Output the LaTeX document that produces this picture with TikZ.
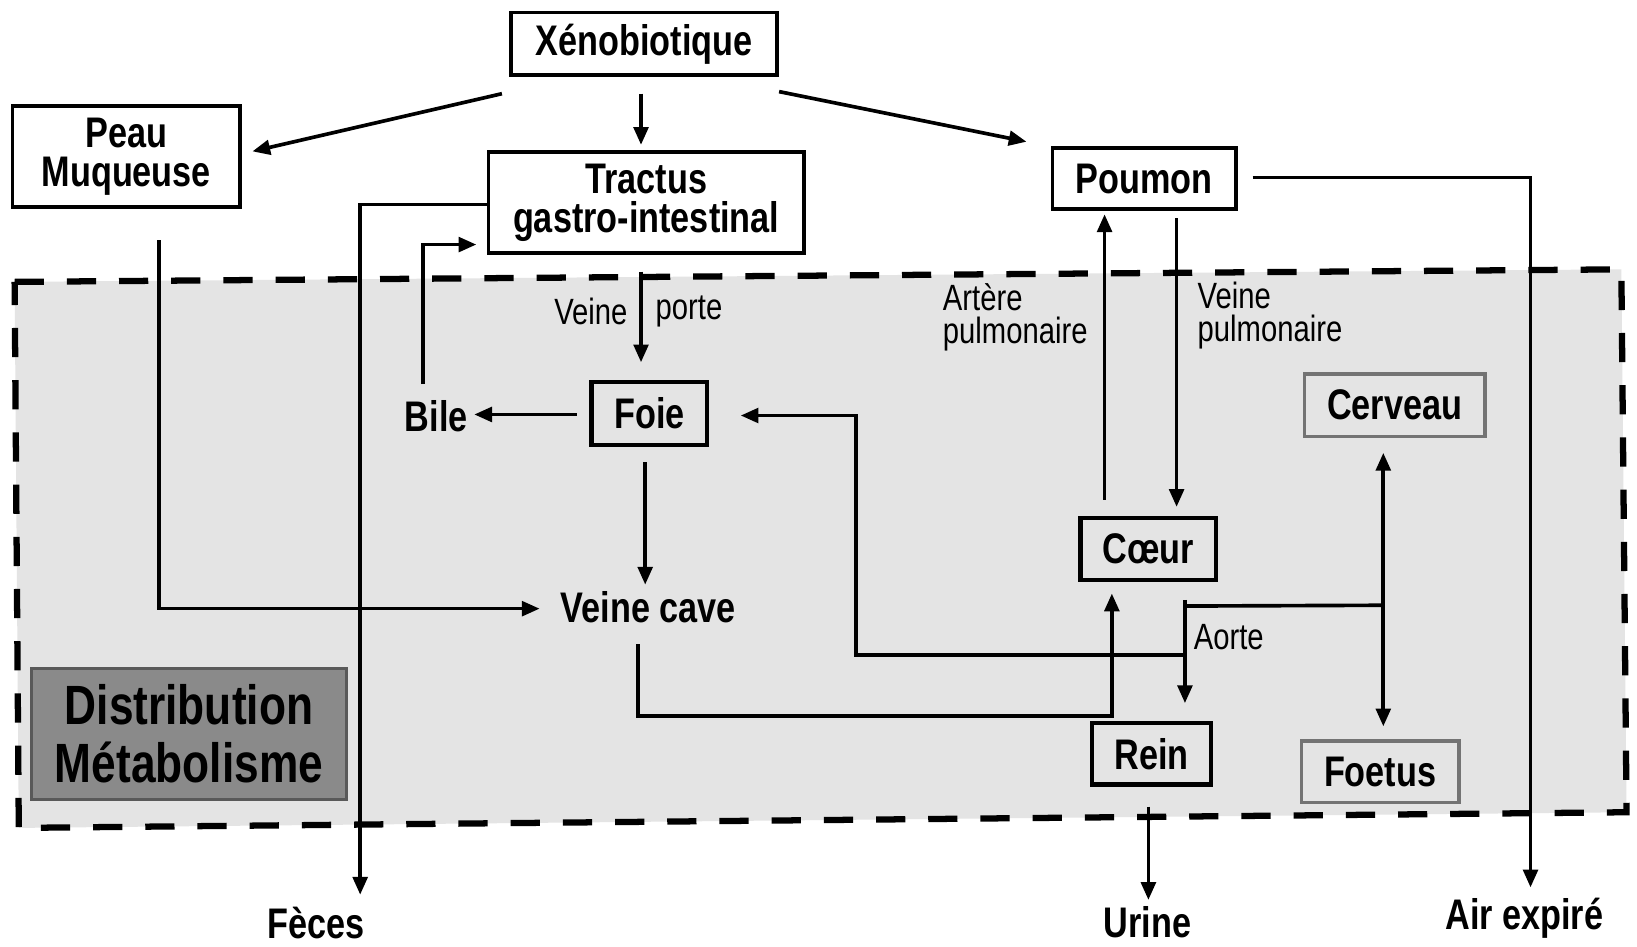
\documentclass[tikz,border=0pt]{standalone}
\usepackage{fontspec}
\setmainfont{Liberation Sans}[FakeStretch=0.8]
\usetikzlibrary{arrows.meta}
\newcommand\bfnt{\fontsize{41}{37}\selectfont\bfseries}
\newcommand\smfnt{\fontsize{35}{32}\selectfont}
\newcommand\bigfnt{\fontsize{53}{56}\selectfont\bfseries}
\definecolor{regiongray}{HTML}{E4E4E4}
\definecolor{distgray}{HTML}{8A8A8A}
\begin{document}
\begin{tikzpicture}[x=1pt,y=-1pt,
  box/.style={draw,line width=3.5pt,inner sep=0pt,align=center,font=\bfnt,fill=white},
  ibox/.style={draw,line width=4pt,inner sep=0pt,align=center,font=\bfnt},
  gbox/.style={draw=black!55,line width=3.5pt,inner sep=0pt,align=center,font=\bfnt},
  lab/.style={inner sep=0pt,font=\bfnt,align=center},
  small/.style={inner sep=0pt,font=\smfnt,align=left},
  arr/.style={line width=3.5pt,-{Triangle[length=17pt,width=14pt]}},
  ln/.style={line width=3.5pt}]
\useasboundingbox (0,0) rectangle (1568,907);
\fill[white] (0,0) rectangle (1568,907);
% region
\fill[regiongray] (14,270) -- (1553,258) -- (1558,778) -- (18,793) -- cycle;
\draw[line width=6pt,dash pattern=on 28pt off 22pt] (14,270) -- (1553,258) -- (1558,778) -- (18,793) -- cycle;
% nodes
\node[box,minimum width=255pt,minimum height=60pt] (xeno) at (617,42) {Xénobiotique};
\node[box,minimum width=218pt,minimum height=97pt] (peau) at (121,150) {Peau\\Muqueuse};
\node[box,minimum width=302pt,minimum height=97pt] (tractus) at (619,194) {Tractus\\gastro-intestinal};
\node[box,minimum width=176pt,minimum height=59pt] (poumon) at (1096,171) {Poumon};
\node[ibox,minimum width=111pt,minimum height=60pt] (foie) at (622,396) {Foie};
\node[lab] (bile) at (418,399) {Bile};
\node[lab] (vcave) at (621,582) {Veine cave};
\node[gbox,minimum width=173pt,minimum height=60pt] (cerveau) at (1336,388) {Cerveau};
\node[ibox,minimum width=130pt,minimum height=59pt] (coeur) at (1100,526) {Cœur};
\node[ibox,minimum width=114pt,minimum height=59pt] (rein) at (1103,722) {Rein};
\node[gbox,minimum width=151pt,minimum height=59pt] (foetus) at (1322,739) {Foetus};
\node[draw=black!65,fill=distgray,line width=3pt,inner sep=0pt,minimum width=302pt,minimum height=126pt,align=center,font=\bigfnt] (dist) at (181,703) {Distribution\\Métabolisme};
\node[lab] (feces) at (303,884) {Fèces};
\node[lab] (urine) at (1099,883) {Urine};
\node[lab] (air) at (1460,880) {Air expiré};
% small labels
\node[small] (veine) at (566,298) {Veine};
\node[small] (porte) at (660,298) {porte};
\node[small,anchor=west] (artere) at (903,304) {Artère\\pulmonaire};
\node[small,anchor=west] (vpulm) at (1147,302) {Veine\\pulmonaire};
\node[small] (aorte) at (1177,610) {Aorte};
% free ends
\coordinate (fecesend) at (345,857);
\coordinate (urineend) at (1100,862);
\coordinate (airend) at (1466,850);
% connectors
\draw[arr] ([shift={(-7,16)}]xeno.south west) -- ([shift={(10,-5)}]peau.east);
\draw[arr] ([shift={(-3,16)}]xeno.south) -- ([shift={(-5,-5)}]tractus.north);
\draw[arr] ([shift={(0,14)}]xeno.south east) -- ([shift={(-23,-4)}]poumon.north west);
\draw[arr] ([shift={(0,2)}]tractus.west) -| (fecesend);
\draw[arr] ([shift={(-13,-31)}]bile.center) |- ([shift={(-10,-10)}]tractus.south west);
\draw[arr] ([shift={(-5,16)}]tractus.south) -- ([shift={(-8,-17)}]foie.north);
\draw[arr] ([shift={(-12,1)}]foie.west) -- ([shift={(6,-2)}]bile.east);
\draw[arr] ([shift={(-4,15)}]foie.south) -- ([shift={(-3,-22)}]vcave.center);
\draw[arr] ([shift={(31,30)}]peau.south) |- ([shift={(-20,1)}]vcave.west);
\draw[arr] ([shift={(-10,35)}]vcave.center) -- ++(0,69) -| ([shift={(-35,11)}]coeur.south);
\draw[arr] ([shift={(-42,-16)}]coeur.north) -- ([shift={(-38,3)}]poumon.south);
\draw[arr] ([shift={(31,7)}]poumon.south) -- ([shift={(27,-9)}]coeur.north);
% aorta
\coordinate (aortetop) at ([shift={(35,17)}]coeur.south);
\draw[arr] (aortetop) -- ([shift={(32,-17)}]rein.north);
\coordinate (jc) at ([shift={(-11,160)}]cerveau.south);
\draw[ln] ([shift={(0,6)}]aortetop) -- (jc);
\draw[arr] (jc) -- ([shift={(-11,14)}]cerveau.south);
\draw[arr] (jc) -- ([shift={(3,-12)}]foetus.north);
\draw[arr] ([shift={(0,53)}]aortetop) -- ++(-315,0) |- ([shift={(30,2)}]foie.east);
% excretion
\draw[arr] ([shift={(-3,19)}]rein.south) -- (urineend);
\draw[arr] ([shift={(14,-1)}]poumon.east) -| (airend);
\end{tikzpicture}
\end{document}
